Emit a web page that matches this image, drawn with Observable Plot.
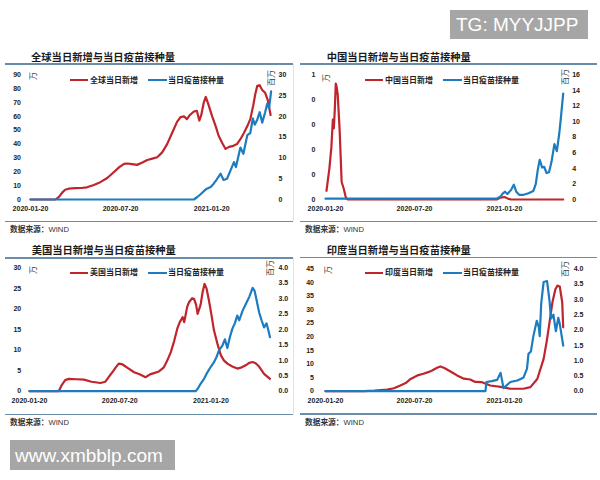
<!DOCTYPE html>
<html><head><meta charset="utf-8">
<script src="https://cdn.jsdelivr.net/npm/d3@7"></script>
<script src="https://cdn.jsdelivr.net/npm/@observablehq/plot@0.6"></script>
<style>
body{margin:0;background:#fff;}
#root{position:relative;width:600px;height:480px;overflow:hidden;background:#fff;font-family:"Noto Sans CJK SC","Liberation Sans",sans-serif;}
.abs{position:absolute;white-space:nowrap;line-height:1;}
.title{font-size:10.3px;font-weight:bold;color:#1a1a1a;}
.sep{position:absolute;height:1.5px;background:#6a8cab;}
.vsep{position:absolute;width:1px;background:#e2e2e2;}
.src{font-size:7.7px;color:#333;}
.src b{font-weight:bold;}
.src span{font-family:"Liberation Sans",Arial,sans-serif;}
.leg{font-size:8px;font-weight:bold;color:#222;}
.sw{position:absolute;height:2px;}
.unit{font-size:8px;color:#333;}
.wm{position:absolute;background:#a6a6a6;color:#fff;font-family:"Liberation Sans",Arial,sans-serif;white-space:nowrap;line-height:1;}
.panel{position:absolute;}
</style></head><body><div id="root"></div>
<script>
// ---------- data ----------
const xDomainDates = ["2020-01-20", "2021-05-20"];
const xTickDates = ["2020-01-20", "2020-07-20", "2021-01-20"];

const titles = ["全球当日新增与当日疫苗接种量", "中国当日新增与当日疫苗接种量", "美国当日新增与当日疫苗接种量", "印度当日新增与当日疫苗接种量"];
const caseNames = ["全球当日新增", "中国当日新增", "美国当日新增", "印度当日新增"];
const vaxName = "当日疫苗接种量";
const sourceLabel = "数据来源：";
const sourceName = "WIND";
const leftUnit = "万";
const rightUnit = "百万";

// Global (cases: 万, vaccinations: 百万)
const globalCaseDates = ["2020-01-20","2020-03-10","2020-03-12","2020-03-18","2020-03-24","2020-03-30","2020-04-06","2020-04-19","2020-05-02","2020-05-13","2020-05-27","2020-06-09","2020-06-23","2020-07-06","2020-07-18","2020-07-27","2020-08-03","2020-08-12","2020-08-22","2020-09-01","2020-09-12","2020-09-22","2020-10-02","2020-10-12","2020-10-22","2020-11-01","2020-11-11","2020-11-18","2020-11-25","2020-12-01","2020-12-07","2020-12-15","2020-12-21","2020-12-26","2020-12-30","2021-01-04","2021-01-08","2021-01-13","2021-01-21","2021-01-28","2021-02-03","2021-02-10","2021-02-17","2021-02-24","2021-03-03","2021-03-12","2021-03-19","2021-03-26","2021-04-02","2021-04-08","2021-04-14","2021-04-18","2021-04-22","2021-04-27","2021-05-02","2021-05-08","2021-05-13","2021-05-19"];
const globalCases = [0,0,0.3,2,5,7,7.8,8.2,8.3,8.8,10.5,12.5,15.5,19.7,23.5,25.7,26,25.5,25,26.5,28.5,29.5,30.5,34,40,48,56,59.5,60,58,61,63.5,64,57,61,70,74,69,60,53,46,41,36.5,38,38.5,40,43.5,48,53,58,68,76,82,82.5,79,77,72,61];
const globalVaxDates = ["2020-01-20","2020-12-15","2020-12-22","2020-12-28","2021-01-04","2021-01-09","2021-01-18","2021-01-24","2021-01-30","2021-02-07","2021-02-13","2021-02-20","2021-02-27","2021-03-06","2021-03-10","2021-03-19","2021-03-25","2021-04-02","2021-04-08","2021-04-13","2021-04-17","2021-04-22","2021-04-27","2021-05-02","2021-05-08","2021-05-12","2021-05-16","2021-05-20"];
const globalVax = [0,0,0.6,1.2,2,2.5,3,3.8,4.8,6.2,4.7,5,7,9,7.8,12.5,11,15.5,16,19.5,18,19.2,21,18.5,21,23,22,26];

// China
const chinaCaseDates = ["2020-01-22","2020-01-28","2020-02-01","2020-02-04","2020-02-06","2020-02-08","2020-02-10","2020-02-12","2020-02-14","2020-02-18","2020-02-22","2020-02-26","2020-03-02","2020-03-06","2021-01-04","2021-01-12","2021-01-20","2021-01-28","2021-02-03","2021-05-20"];
const chinaCases = [0.07,0.25,0.42,0.64,0.57,0.72,0.93,0.9,0.84,0.55,0.14,0.09,0.01,0,0,0.015,0.02,0.005,0,0];
const chinaVaxDates = ["2020-01-20","2021-01-04","2021-01-12","2021-01-17","2021-01-21","2021-01-26","2021-02-02","2021-02-08","2021-02-13","2021-02-19","2021-02-28","2021-03-10","2021-03-20","2021-03-25","2021-03-29","2021-04-02","2021-04-07","2021-04-11","2021-04-16","2021-04-21","2021-04-26","2021-05-02","2021-05-07","2021-05-12","2021-05-15","2021-05-20"];
const chinaVax = [0.1,0.1,0.4,0.8,1.0,0.7,1.2,1.9,1.0,0.6,0.6,0.8,1.1,2.0,3.8,5.1,4.1,4.2,3.4,3.5,4.8,7.1,6.2,8.5,10.3,13.6];

// United States
const usCaseDates = ["2020-01-20","2020-03-19","2020-03-25","2020-04-01","2020-04-08","2020-04-24","2020-05-09","2020-05-24","2020-06-11","2020-06-21","2020-06-28","2020-07-05","2020-07-12","2020-07-18","2020-07-24","2020-07-28","2020-08-07","2020-08-18","2020-08-29","2020-09-10","2020-09-19","2020-09-27","2020-10-07","2020-10-17","2020-10-24","2020-10-31","2020-11-07","2020-11-13","2020-11-18","2020-11-24","2020-11-27","2020-12-03","2020-12-07","2020-12-13","2020-12-17","2020-12-21","2020-12-24","2020-12-30","2021-01-03","2021-01-07","2021-01-11","2021-01-16","2021-01-21","2021-01-26","2021-02-02","2021-02-09","2021-02-15","2021-02-22","2021-03-04","2021-03-14","2021-03-23","2021-03-31","2021-04-07","2021-04-14","2021-04-20","2021-04-27","2021-05-07","2021-05-13","2021-05-19"];
const usCases = [0,0,1.5,2.7,3.0,2.9,2.8,2.3,2.0,2.3,3.5,4.6,5.8,6.7,6.6,6.3,5.5,4.6,4.1,3.4,4.1,4.4,4.8,5.8,7.5,9.5,12.3,15.2,16.8,18,16.8,20.5,21.7,22.6,22.4,21,18.8,21,24,26.1,25,22,18.5,14.8,11.5,8.7,7.5,6.7,6.0,5.5,5.8,6.3,6.9,7.1,6.8,6.0,4.2,3.6,3.0];
const usVaxDates = ["2020-01-20","2020-12-20","2020-12-25","2020-12-30","2021-01-06","2021-01-13","2021-01-20","2021-01-26","2021-01-31","2021-02-05","2021-02-12","2021-02-17","2021-02-22","2021-02-27","2021-03-04","2021-03-09","2021-03-14","2021-03-18","2021-03-25","2021-04-01","2021-04-07","2021-04-14","2021-04-18","2021-04-22","2021-04-27","2021-05-02","2021-05-07","2021-05-12","2021-05-16","2021-05-19"];
const usVax = [0,0,0.1,0.24,0.4,0.62,0.8,0.94,1.1,1.32,1.48,1.68,1.4,1.75,2.02,2.2,2.45,2.3,2.62,2.85,3.05,3.35,3.25,2.95,2.56,2.3,2.07,2.2,1.95,1.75];

// India
const indiaCaseDates = ["2020-01-20","2020-04-07","2020-04-29","2020-05-25","2020-06-08","2020-06-21","2020-07-02","2020-07-12","2020-07-26","2020-08-07","2020-08-17","2020-08-25","2020-09-04","2020-09-11","2020-09-19","2020-09-28","2020-10-06","2020-10-15","2020-10-29","2020-11-11","2020-11-21","2020-12-05","2020-12-22","2021-01-12","2021-02-01","2021-02-28","2021-03-14","2021-03-28","2021-04-10","2021-04-16","2021-04-21","2021-04-28","2021-05-04","2021-05-08","2021-05-13","2021-05-18","2021-05-20"];
const indiaCases = [0,0.05,0.2,0.6,1.1,2.1,3.0,4.5,5.8,6.4,7.0,7.6,8.6,9.1,8.5,7.6,6.8,5.8,4.6,4.3,3.4,3.3,2.1,1.6,0.9,0.9,1.5,4.5,11.9,18,24,32.7,37.5,38.8,38.5,32.7,23.5];
const indiaVaxDates = ["2020-01-20","2020-12-12","2020-12-14","2020-12-25","2021-01-05","2021-01-12","2021-01-18","2021-02-01","2021-02-15","2021-02-22","2021-02-28","2021-03-07","2021-03-10","2021-03-15","2021-03-20","2021-03-27","2021-03-31","2021-04-02","2021-04-05","2021-04-10","2021-04-17","2021-04-22","2021-04-25","2021-04-30","2021-05-05","2021-05-10","2021-05-13","2021-05-20"];
const indiaVax = [0,0,0.3,0.33,0.37,0.6,0.1,0.3,0.35,0.4,0.45,0.74,1.22,1.3,1.8,2.3,2.1,1.8,2.86,3.57,3.6,2.96,2.37,2.5,1.96,2.4,2.2,1.49];

// axis ticks and labels
const globalLeftTicks = [0,10,20,30,40,50,60,70,80,90];
const globalLeftLabels = ["0","10","20","30","40","50","60","70","80","90"];
const globalRightTicks = [0,5,10,15,20,25,30];
const globalRightLabels = ["0","5","10","15","20","25","30"];
const chinaLeftTicks = [0,0.2,0.4,0.6,0.8,1];
const chinaLeftLabels = ["0","0","0","0","0","1"];
const chinaRightTicks = [0,2,4,6,8,10,12,14,16];
const chinaRightLabels = ["0","2","4","6","8","10","12","14","16"];
const usLeftTicks = [0,5,10,15,20,25,30];
const usLeftLabels = ["0","5","10","15","20","25","30"];
const usRightTicks = [0,0.5,1,1.5,2,2.5,3,3.5,4];
const usRightLabels = ["0.0","0.5","1.0","1.5","2.0","2.5","3.0","3.5","4.0"];
const indiaLeftTicks = [0,5,10,15,20,25,30,35,40,45];
const indiaLeftLabels = ["0","5","10","15","20","25","30","35","40","45"];
const indiaRightTicks = [0,0.5,1,1.5,2,2.5,3,3.5,4];
const indiaRightLabels = ["0.0","0.5","1.0","1.5","2.0","2.5","3.0","3.5","4.0"];

// ---------- drawing ----------
const RED = "#c0252c", BLUE = "#1d7cbf";
const parse = d3.utcParse("%Y-%m-%d");
const root = document.getElementById("root");

function el(cls, left, top, text, extra) {
  const d = document.createElement("div");
  d.className = "abs " + cls;
  d.style.left = left + "px"; d.style.top = top + "px";
  if (text !== undefined) d.textContent = text;
  if (extra) Object.assign(d.style, extra);
  root.appendChild(d);
  return d;
}

function makePanel(cfg) {
  const k = cfg.leftTicks[cfg.leftTicks.length - 1] / cfg.rightTicks[cfg.rightTicks.length - 1];
  const red = cfg.caseDates.map((d, i) => ({date: parse(d), v: cfg.cases[i]}));
  const blue = cfg.vaxDates.map((d, i) => ({date: parse(d), v: cfg.vax[i] * k}));
  const rightPos = cfg.rightTicks.map(t => t * k);
  const plot = Plot.plot({
    width: 300, height: cfg.height,
    marginTop: cfg.mt, marginBottom: cfg.mb, marginLeft: cfg.ml, marginRight: cfg.mr,
    x: {type: "utc", domain: xDomainDates.map(parse)},
    y: {domain: [0, cfg.leftTicks[cfg.leftTicks.length - 1]]},
    style: {fontFamily: "Liberation Sans, Arial, sans-serif", fontSize: "7px", fontWeight: "bold", color: "#222", background: "transparent", overflow: "visible"},
    marks: [
      Plot.axisX(xTickDates.map(parse), {tickSize: 0, tickPadding: 7, label: null, tickFormat: d3.utcFormat("%Y-%m-%d")}),
      Plot.axisY(cfg.leftTicks, {anchor: "left", tickSize: 0, tickPadding: cfg.padL, label: null, tickFormat: d => cfg.leftLabels[cfg.leftTicks.indexOf(d)]}),
      Plot.axisY(rightPos, {anchor: "right", tickSize: 0, tickPadding: cfg.padR, label: null, tickFormat: d => cfg.rightLabels[rightPos.indexOf(d)]}),
      Plot.line(red, {x: "date", y: "v", stroke: RED, strokeWidth: 2.2}),
      Plot.line(blue, {x: "date", y: "v", stroke: BLUE, strokeWidth: 2.2})
    ]
  });
  plot.classList.add("panel");
  plot.style.left = cfg.left + "px";
  plot.style.top = cfg.top + "px";
  root.appendChild(plot);

  // title, separators, source
  el("title", cfg.titleX, cfg.titleY, cfg.title);
  const s1 = document.createElement("div"); s1.className = "sep";
  Object.assign(s1.style, {left: cfg.sepX + "px", width: cfg.sepW + "px", top: cfg.sepTop + "px"}); root.appendChild(s1);
  const s2 = document.createElement("div"); s2.className = "sep";
  Object.assign(s2.style, {left: cfg.sepX + "px", width: cfg.sepW + "px", top: cfg.sepBot + "px"}); root.appendChild(s2);
  const src = el("src", cfg.srcX, cfg.srcY);
  src.innerHTML = "<b>" + sourceLabel + "</b><span>" + sourceName + "</span>";

  // legend
  const ly = cfg.legY;
  const sw1 = document.createElement("div"); sw1.className = "sw";
  Object.assign(sw1.style, {left: cfg.legX + "px", top: (ly - 1) + "px", width: "18px", background: RED}); root.appendChild(sw1);
  el("leg", cfg.legX + 20, ly - 4.5, cfg.caseName);
  const sw2 = document.createElement("div"); sw2.className = "sw";
  Object.assign(sw2.style, {left: (cfg.legX + 78) + "px", top: (ly - 1) + "px", width: "19px", background: BLUE}); root.appendChild(sw2);
  el("leg", cfg.legX + 98, ly - 4.5, vaxName);

  // units (rotated)
  el("unit", cfg.luX - 4, cfg.luY - 4, leftUnit, {transform: "rotate(-90deg)"});
  el("unit", cfg.ruX - 8, cfg.ruY - 4, rightUnit, {transform: "rotate(-90deg)"});
}

makePanel({left: 0, top: 64, height: 156, mt: 10.3, mb: 21, ml: 30, mr: 29.4, padL: 9.5, padR: 7.5,
  leftTicks: globalLeftTicks, leftLabels: globalLeftLabels, rightTicks: globalRightTicks, rightLabels: globalRightLabels,
  caseDates: globalCaseDates, cases: globalCases, vaxDates: globalVaxDates, vax: globalVax,
  title: titles[0], caseName: caseNames[0], titleX: 31, titleY: 51.5,
  sepX: 5, sepW: 288, sepTop: 63, sepBot: 220.5, srcX: 10, srcY: 225,
  legX: 70, legY: 80, luX: 33, luY: 76, ruX: 271, ruY: 78});
makePanel({left: 300, top: 64, height: 156, mt: 10.3, mb: 21, ml: 25, mr: 37.3, padL: 10, padR: 9,
  leftTicks: chinaLeftTicks, leftLabels: chinaLeftLabels, rightTicks: chinaRightTicks, rightLabels: chinaRightLabels,
  caseDates: chinaCaseDates, cases: chinaCases, vaxDates: chinaVaxDates, vax: chinaVax,
  title: titles[1], caseName: caseNames[1], titleX: 326.7, titleY: 51.5,
  sepX: 300, sepW: 297, sepTop: 63, sepBot: 220.5, srcX: 305, srcY: 225,
  legX: 365, legY: 80, luX: 326, luY: 78, ruX: 565, ruY: 77});
makePanel({left: 0, top: 258, height: 156, mt: 9.3, mb: 23.3, ml: 29, mr: 30, padL: 8.3, padR: 8,
  leftTicks: usLeftTicks, leftLabels: usLeftLabels, rightTicks: usRightTicks, rightLabels: usRightLabels,
  caseDates: usCaseDates, cases: usCases, vaxDates: usVaxDates, vax: usVax,
  title: titles[2], caseName: caseNames[2], titleX: 31.7, titleY: 245,
  sepX: 5, sepW: 288, sepTop: 257, sepBot: 413.5, srcX: 10, srcY: 418,
  legX: 70, legY: 272.7, luX: 33, luY: 270, ruX: 270, ruY: 268});
makePanel({left: 300, top: 258, height: 156, mt: 10.3, mb: 23.3, ml: 25, mr: 37.3, padL: 11.5, padR: 10.5,
  leftTicks: indiaLeftTicks, leftLabels: indiaLeftLabels, rightTicks: indiaRightTicks, rightLabels: indiaRightLabels,
  caseDates: indiaCaseDates, cases: indiaCases, vaxDates: indiaVaxDates, vax: indiaVax,
  title: titles[3], caseName: caseNames[3], titleX: 326.7, titleY: 245,
  sepX: 300, sepW: 297, sepTop: 256.5, sepBot: 413, srcX: 305, srcY: 418,
  legX: 365, legY: 272.7, luX: 328, luY: 270, ruX: 565, ruY: 269});

// faint divider between left and right panels
[[64, 157], [258, 156]].forEach(([t, h]) => {
  const v = document.createElement("div"); v.className = "vsep";
  Object.assign(v.style, {left: "293px", top: t + "px", height: h + "px"}); root.appendChild(v);
});

// watermark boxes
const wm1 = document.createElement("div"); wm1.className = "wm";
Object.assign(wm1.style, {left: "450px", top: "10px", width: "138px", height: "29px", fontSize: "19px", paddingLeft: "6px", boxSizing: "border-box", paddingTop: "5px"});
wm1.textContent = "TG: MYYJJPP"; root.appendChild(wm1);
const wm2 = document.createElement("div"); wm2.className = "wm";
Object.assign(wm2.style, {left: "10px", top: "440px", width: "165px", height: "30px", fontSize: "19px", paddingLeft: "5px", boxSizing: "border-box", paddingTop: "5.5px"});
wm2.textContent = "www.xmbblp.com"; root.appendChild(wm2);
</script></body></html>
